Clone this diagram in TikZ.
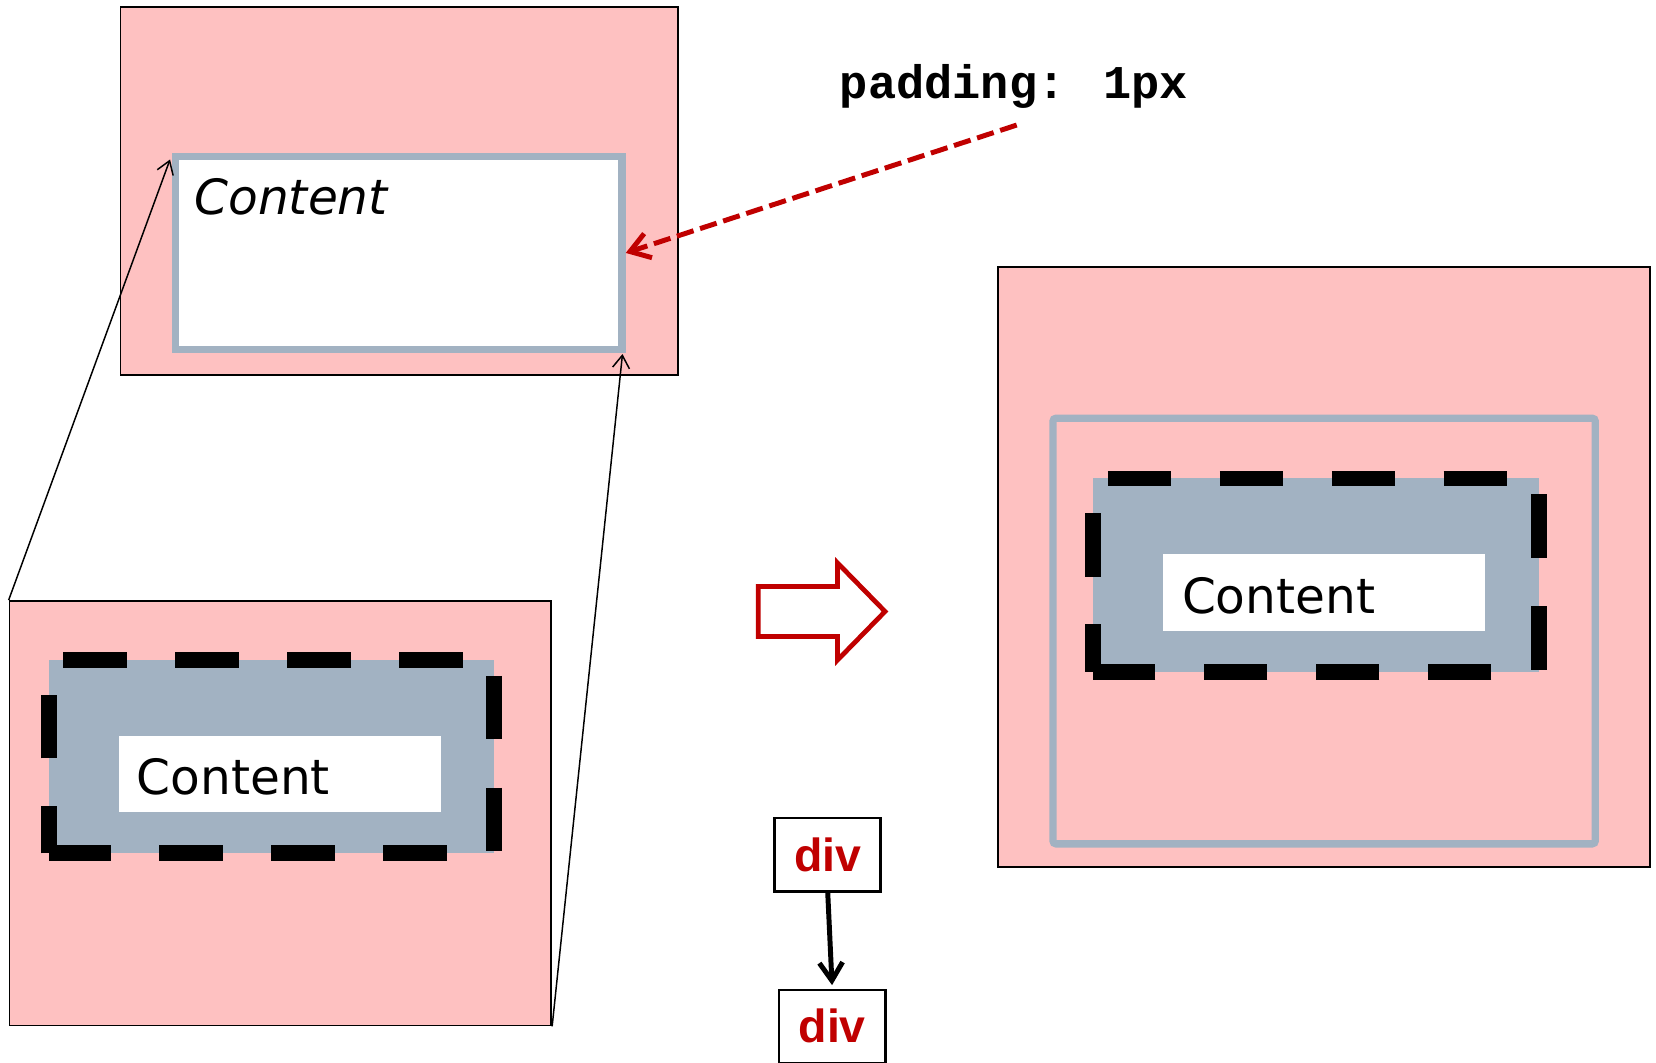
\documentclass[tikz,border=0pt]{standalone}
\usepackage{fontspec}
\setmainfont{DejaVu Sans}
\newfontfamily\codefont{Liberation Mono}
\newfontfamily\arialfont{Liberation Sans}
\usetikzlibrary{arrows.meta}
\definecolor{boxpink}{RGB}{254,193,193}
\definecolor{padgray}{RGB}{162,178,194}
\definecolor{darkred}{RGB}{192,0,0}
\begin{document}
\begin{tikzpicture}[x=1pt,y=-1pt,
  pinkbox/.style={draw=black, line width=1.6pt, fill=boxpink, inner sep=0pt},
  contentframe/.style={draw=padgray, line width=7pt, fill=white, inner sep=0pt},
  padfill/.style={fill=padgray, inner sep=0pt, outer sep=0pt},
  whitefill/.style={fill=white, inner sep=0pt, outer sep=0pt},
  contenttext/.style={anchor=base west, inner sep=0pt, font=\fontsize{46pt}{55pt}\selectfont},
  dashtop/.style={line width=15pt, dash pattern=on 60pt off 46pt, dash phase=92pt},
  dashright/.style={line width=15pt, dash pattern=on 60pt off 46pt, dash phase=91pt},
  dashbottom/.style={line width=15pt, dash pattern=on 60pt off 46pt, dash phase=61pt},
  dashleft/.style={line width=15pt, dash pattern=on 45pt off 45pt on 60pt off 100pt},
  thinarrow/.style={line width=1.4pt, -{Straight Barb[length=12pt,width=16pt]}},
  redarrow/.style={draw=darkred, line width=4.7pt, dash pattern=on 16.5pt off 6.5pt, -{Straight Barb[length=18pt,width=24pt]}},
  hollowarrow/.style={draw=darkred, fill=white, line width=4.5pt, line join=miter},
  divbox/.style={draw=black, line width=2.5pt, fill=white, inner sep=0pt, text=darkred,
    font=\arialfont\bfseries\fontsize{44pt}{48pt}\selectfont},
  divarrow/.style={line width=4.7pt, -{Straight Barb[length=17pt,width=22pt]}}
]
\useasboundingbox (0,0) rectangle (1568,1006);
\clip (0,0) rectangle (1568,1006);

% top-left zoomed box
\node[pinkbox, minimum width=528pt, minimum height=348.5pt] (zoomA) at (378,180.75) {};
\node[contentframe, minimum width=423pt, minimum height=183pt] (cA) at (377.5,239.5) {};
\node[contenttext, font=\fontsize{46pt}{55pt}\selectfont\itshape] (cAtext) at (184,203) {Content};

% bottom-left box
\node[pinkbox, minimum width=513pt, minimum height=402pt] (zoomB) at (265.5,770) {};
\node[padfill, minimum width=422pt, minimum height=183pt] (padB) at (257,716.5) {};
\node[whitefill, minimum width=305pt, minimum height=71.6pt] (contB) at (265.1,732.8) {};
\node[contenttext] (contBtext) at (129.3,751.8) {Content};
\draw[dashtop] (padB.north west) -- (padB.north east);
\draw[dashright] (padB.north east) -- (padB.south east);
\draw[dashbottom] (padB.south east) -- (padB.south west);
\draw[dashleft] (padB.south west) -- (padB.north west);

% right box
\node[pinkbox, minimum width=617.5pt, minimum height=568pt] (bigR) at (1253.75,537) {};
\node[draw=padgray, line width=7pt, rounded corners=3pt, inner sep=0pt,
      minimum width=513.5pt, minimum height=403pt] (outlineR) at (1253.75,597.5) {};
\node[padfill, minimum width=422pt, minimum height=183pt] (padR) at (1246,544.5) {};
\node[whitefill, minimum width=305pt, minimum height=72.5pt] (contR) at (1254,561.25) {};
\node[contenttext] (contRtext) at (1119,580.8) {Content};
\draw[dashtop] (padR.north west) -- (padR.north east);
\draw[dashright] (padR.north east) -- (padR.south east);
\draw[dashbottom] (padR.south east) -- (padR.south west);
\draw[dashleft] (padR.south west) -- (padR.north west);

% padding label and arrow
\node[anchor=base west, inner sep=0pt, font=\codefont\bfseries\fontsize{44.5pt}{50pt}\selectfont] (lbl) at (795,93) {padding: 1px};
\coordinate (padstart) at (962.7,118.4);
\draw[redarrow] (padstart) -- (cA.east);

% hollow block arrow
\draw[hollowarrow] (718,555.3) -- (793,555.3) -- (793,533) -- (838,579) -- (793,625) -- (793,602.7) -- (718,602.7) -- cycle;

% div boxes
\node[divbox, minimum width=100.5pt, minimum height=69.5pt] (div1) at (783.75,809.25) {div};
\node[divbox, minimum width=101pt, minimum height=69.5pt] (div2) at (788,972.25) {\raisebox{2.5pt}{div}};
\draw[divarrow, shorten >=3.5pt] (div1.south) -- (div2.north);

% zoom lines
\draw[thinarrow] (zoomB.north west) -- ([xshift=-1.5pt,yshift=-6.5pt]cA.north west);
\draw[thinarrow] (zoomB.south east) -- ([xshift=-3.1pt,yshift=-0.7pt]cA.south east);
\end{tikzpicture}
\end{document}
